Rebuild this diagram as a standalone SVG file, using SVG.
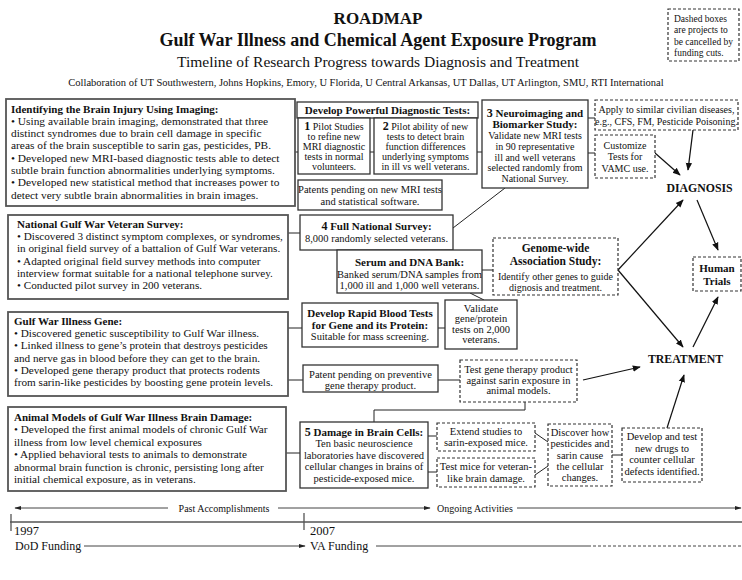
<svg xmlns="http://www.w3.org/2000/svg" width="742" height="580" viewBox="0 0 742 580">
<defs>
<marker id="ah" viewBox="0 0 10 10" refX="9" refY="5" markerWidth="8" markerHeight="8" orient="auto" markerUnits="userSpaceOnUse"><path d="M0,1 L10,5 L0,9 z" fill="#111"/></marker>
<marker id="sh" viewBox="0 0 10 10" refX="9" refY="5" markerWidth="7" markerHeight="7" orient="auto" markerUnits="userSpaceOnUse"><path d="M0,2 L10,5 L0,8 z" fill="#222"/></marker>
</defs>
<style>
text{font-family:"Liberation Serif","Times New Roman",serif;fill:#111;}
.b{font-weight:bold;}
.m{text-anchor:middle;}
.lbox{fill:#fff;stroke:#555;stroke-width:1.8;}
.box{fill:#fff;stroke:#333;stroke-width:1.3;}
.dbox{fill:#fff;stroke:#333;stroke-width:1.2;stroke-dasharray:3 2;}
.c{stroke:#222;stroke-width:1;fill:none;}
.a{stroke:#111;stroke-width:1.2;fill:none;marker-end:url(#ah);}
.tl{stroke:#444;stroke-width:1;fill:none;}
.s10{font-size:10px;}
.s105{font-size:10.5px;}
.s11{font-size:11px;}
.s112{font-size:11.2px;}
.s114{font-size:11.4px;}
</style>
<rect width="742" height="580" fill="#fff"/>

<g id="header">
<text x="378" y="24" class="b m" font-size="17">ROADMAP</text>
<text x="378" y="46" class="b m" font-size="18">Gulf War Illness and Chemical Agent Exposure Program</text>
<text x="378" y="67" class="m" font-size="15.5">Timeline of Research Progress towards Diagnosis and Treatment</text>
<text x="366" y="86" class="m s105">Collaboration of UT Southwestern, Johns Hopkins, Emory, U Florida, U Central Arkansas, UT Dallas, UT Arlington, SMU, RTI International</text>
</g>

<g id="legend">
<rect x="668" y="9" width="71" height="52" class="dbox"/>
<text x="674" font-size="9.5"><tspan x="674" y="21.5">Dashed boxes</tspan><tspan x="674" y="33">are projects to</tspan><tspan x="674" y="44.5">be cancelled by</tspan><tspan x="674" y="56">funding cuts.</tspan></text>
</g>

<g id="connectors">
<line x1="293" y1="152" x2="482" y2="152" class="c"/>
<line x1="288" y1="233" x2="300" y2="233" class="c"/>
<line x1="288" y1="328" x2="302" y2="328" class="c"/>
<line x1="288" y1="380" x2="303" y2="380" class="c"/>
<line x1="286" y1="453" x2="300" y2="453" class="c"/>
<line x1="505" y1="188" x2="453" y2="228" class="c"/>
<line x1="482" y1="270" x2="493" y2="270" class="c"/>
<line x1="470" y1="293" x2="484" y2="300" class="c"/>
<line x1="438" y1="328" x2="445" y2="328" class="c"/>
<line x1="438" y1="380" x2="460" y2="380" class="c"/>
<polyline points="525,402 525,410 374,410 374,422" class="c"/>
<line x1="428" y1="436" x2="437" y2="436" class="c"/>
<line x1="428" y1="472" x2="437" y2="472" class="c"/>
<line x1="535" y1="433" x2="548" y2="442" class="c"/>
<line x1="535" y1="475" x2="548" y2="466" class="c"/>
<line x1="612" y1="455" x2="622" y2="455" class="c"/>
<line x1="588" y1="118" x2="595" y2="118" class="c"/>
<line x1="588" y1="153" x2="595" y2="153" class="c"/>
<line x1="655" y1="153" x2="680" y2="175" class="a"/>
<line x1="693" y1="130" x2="688" y2="170" class="a"/>
<line x1="618" y1="270" x2="683" y2="200" class="a"/>
<line x1="618" y1="270" x2="683" y2="347" class="a"/>
<line x1="697" y1="200" x2="718" y2="250" class="a"/>
<line x1="693" y1="347" x2="718" y2="297" class="a"/>
<line x1="583" y1="380" x2="640" y2="367" class="a"/>
<line x1="667" y1="428" x2="684" y2="375" class="a"/>
</g>

<g id="imaging">
<rect x="6" y="99" width="289" height="107" class="lbox"/>
<text class="b s11" x="11" y="112.5">Identifying the Brain Injury Using Imaging:</text>
<text class="s114"><tspan x="11" y="124.8">• Using available brain imaging, demonstrated that three</tspan><tspan x="11" y="137.1">distinct syndromes due to brain cell damage in specific</tspan><tspan x="11" y="149.4">areas of the brain susceptible to sarin gas, pesticides, PB.</tspan><tspan x="11" y="161.7">• Developed new MRI-based diagnostic tests able to detect</tspan><tspan x="11" y="174">subtle brain function abnormalities underlying symptoms.</tspan><tspan x="11" y="186.3">• Developed new statistical method that increases power to</tspan><tspan x="11" y="198.6">detect very subtle brain abnormalities in brain images.</tspan></text>
</g>

<g id="survey">
<rect x="8" y="215" width="280" height="84" class="lbox"/>
<text class="b s11" x="17" y="228">National Gulf War Veteran Survey:</text>
<text class="s112"><tspan x="17" y="240.2">• Discovered 3 distinct symptom complexes, or syndromes,</tspan><tspan x="17" y="252.4">in original field survey of a battalion of Gulf War veterans.</tspan><tspan x="17" y="264.6">• Adapted original field survey methods into computer</tspan><tspan x="17" y="276.8">interview format suitable for a national telephone survey.</tspan><tspan x="17" y="289">• Conducted pilot survey in 200 veterans.</tspan></text>
</g>

<g id="gene">
<rect x="8" y="312" width="280" height="84" class="lbox"/>
<text class="b s11" x="14" y="325">Gulf War Illness Gene:</text>
<text class="s112"><tspan x="14" y="337.2">• Discovered genetic susceptibility to Gulf War illness.</tspan><tspan x="14" y="349.4">• Linked illness to gene’s protein that destroys pesticides</tspan><tspan x="14" y="361.6">and nerve gas in blood before they can get to the brain.</tspan><tspan x="14" y="373.8">• Developed gene therapy product that protects rodents</tspan><tspan x="14" y="386">from sarin-like pesticides by boosting gene protein levels.</tspan></text>
</g>

<g id="animal">
<rect x="8" y="407" width="278" height="84" class="lbox"/>
<text class="b s11" x="14" y="421">Animal Models of Gulf War Illness Brain Damage:</text>
<text class="s112"><tspan x="14" y="433.4">• Developed the first animal models of chronic Gulf War</tspan><tspan x="14" y="445.8">illness from low level chemical exposures</tspan><tspan x="14" y="458.2">• Applied behavioral tests to animals to demonstrate</tspan><tspan x="14" y="470.6">abnormal brain function is chronic, persisting long after</tspan><tspan x="14" y="483">initial chemical exposure, as in veterans.</tspan></text>
</g>

<g id="diagtests">
<rect x="297" y="102" width="181" height="16" class="box"/>
<text class="b s11 m" x="387.5" y="114">Develop Powerful Diagnostic Tests:</text>
</g>
<g id="pilot1">
<rect x="298" y="118" width="72" height="56" class="box"/>
<text class="s10 m"><tspan x="334" y="130"><tspan class="b" font-size="12">1</tspan> Pilot Studies</tspan><tspan x="334" y="140">to refine new</tspan><tspan x="334" y="150">MRI diagnostic</tspan><tspan x="334" y="160">tests in normal</tspan><tspan x="334" y="170">volunteers.</tspan></text>
</g>
<g id="pilot2">
<rect x="374" y="118" width="103" height="56" class="box"/>
<text class="s10 m"><tspan x="425.5" y="130"><tspan class="b" font-size="12">2</tspan> Pilot ability of new</tspan><tspan x="425.5" y="140">tests to detect brain</tspan><tspan x="425.5" y="150">function differences</tspan><tspan x="425.5" y="160">underlying symptoms</tspan><tspan x="425.5" y="170">in ill vs well veterans.</tspan></text>
</g>
<g id="patents">
<rect x="298" y="180" width="144" height="30" class="box"/>
<text class="s105 m"><tspan x="370" y="193">Patents pending on new MRI tests</tspan><tspan x="370" y="204.5">and statistical software.</tspan></text>
</g>

<g id="fullsurvey">
<rect x="300" y="215" width="153" height="35" class="box"/>
<text class="b s11 m" x="376.5" y="230"><tspan font-size="12">4</tspan> Full National Survey:</text>
<text class="s105 m" x="376.5" y="242">8,000 randomly selected veterans.</text>
</g>
<g id="serum">
<rect x="337" y="250" width="145" height="43" class="box"/>
<text class="b s11 m" x="409.5" y="265.5">Serum and DNA Bank:</text>
<text class="s105 m"><tspan x="409.5" y="277.5">Banked serum/DNA samples from</tspan><tspan x="409.5" y="288.5">1,000 ill and 1,000 well veterans.</tspan></text>
</g>
<g id="rapid">
<rect x="302" y="303" width="136" height="44" class="box"/>
<text class="b s11 m"><tspan x="370" y="317">Develop Rapid Blood Tests</tspan><tspan x="370" y="328.5">for Gene and its Protein:</tspan></text>
<text class="s105 m" x="370" y="340">Suitable for mass screening.</text>
</g>
<g id="validate">
<rect x="445" y="300" width="72" height="49" class="box"/>
<text class="s105 m"><tspan x="481" y="311.5">Validate</tspan><tspan x="481" y="322">gene/protein</tspan><tspan x="481" y="332.5">tests on 2,000</tspan><tspan x="481" y="343">veterans.</tspan></text>
</g>
<g id="patentgene">
<rect x="303" y="365" width="135" height="27" class="box"/>
<text class="s105 m"><tspan x="370.5" y="377.5">Patent pending on preventive</tspan><tspan x="370.5" y="388.5">gene therapy product.</tspan></text>
</g>
<g id="testgene">
<rect x="460" y="360" width="117" height="42" class="dbox"/>
<text class="s105 m"><tspan x="518.5" y="373">Test gene therapy product</tspan><tspan x="518.5" y="383.5">against sarin exposure in</tspan><tspan x="518.5" y="394">animal models.</tspan></text>
</g>
<g id="braincells">
<rect x="300" y="422" width="128" height="66" class="box"/>
<text class="b s11 m" x="364" y="435.5"><tspan font-size="12">5</tspan> Damage in Brain Cells:</text>
<text class="s105 m"><tspan x="364" y="447">Ten basic neuroscience</tspan><tspan x="364" y="458.5">laboratories have discovered</tspan><tspan x="364" y="470">cellular changes in brains of</tspan><tspan x="364" y="481.5">pesticide-exposed mice.</tspan></text>
</g>
<g id="extend">
<rect x="437" y="423" width="98" height="28" class="dbox"/>
<text class="s105 m"><tspan x="486" y="434.5">Extend studies to</tspan><tspan x="486" y="446">sarin-exposed mice.</tspan></text>
</g>
<g id="testmice">
<rect x="437" y="458" width="98" height="29" class="dbox"/>
<text class="s105 m"><tspan x="486" y="470">Test mice for veteran-</tspan><tspan x="486" y="481.5">like brain damage.</tspan></text>
</g>
<g id="discover">
<rect x="548" y="424" width="64" height="62" class="dbox"/>
<text class="s105 m"><tspan x="580" y="436">Discover how</tspan><tspan x="580" y="447">pesticides and</tspan><tspan x="580" y="458.5">sarin cause</tspan><tspan x="580" y="470">the cellular</tspan><tspan x="580" y="481">changes.</tspan></text>
</g>
<g id="drugs">
<rect x="622" y="428" width="80" height="54" class="dbox"/>
<text class="s105 m"><tspan x="662" y="440">Develop and test</tspan><tspan x="662" y="451.5">new drugs to</tspan><tspan x="662" y="463">counter cellular</tspan><tspan x="662" y="474.5">defects identified.</tspan></text>
</g>

<g id="neuro">
<rect x="482" y="100" width="106" height="88" class="box"/>
<text class="b s11 m"><tspan x="535" y="116.5"><tspan font-size="12">3</tspan> Neuroimaging and</tspan><tspan x="535" y="128">Biomarker Study:</tspan></text>
<text class="s10 m"><tspan x="535" y="139">Validate new MRI tests</tspan><tspan x="535" y="149.5">in 90 representative</tspan><tspan x="535" y="160.5">ill and well veterans</tspan><tspan x="535" y="171">selected randomly from</tspan><tspan x="535" y="181.5">National Survey.</tspan></text>
</g>
<g id="apply">
<rect x="595" y="100" width="143" height="30" class="dbox"/>
<text class="s10 m"><tspan x="666.5" y="113">Apply to similar civilian diseases,</tspan><tspan x="666.5" y="124.5">e.g., CFS, FM, Pesticide Poisoning.</tspan></text>
</g>
<g id="customize">
<rect x="595" y="135" width="60" height="43" class="dbox"/>
<text class="s10 m"><tspan x="625" y="148.5">Customize</tspan><tspan x="625" y="160">Tests for</tspan><tspan x="625" y="171.5">VAMC use.</tspan></text>
</g>
<g id="diagnosis">
<text class="b m" font-size="11.8" x="699.5" y="192">DIAGNOSIS</text>
</g>
<g id="genome">
<rect x="493" y="238" width="125" height="57" class="dbox"/>
<text class="b m" font-size="11.5"><tspan x="555.5" y="252">Genome-wide</tspan><tspan x="555.5" y="264.5">Association Study:</tspan></text>
<text class="s10 m"><tspan x="555.5" y="279.5">Identify other genes to guide</tspan><tspan x="555.5" y="290.5">dignosis and treatment.</tspan></text>
</g>
<g id="trials">
<rect x="693" y="257" width="48" height="34" class="dbox"/>
<text class="b s11 m"><tspan x="717" y="271.5">Human</tspan><tspan x="717" y="285">Trials</tspan></text>
</g>
<g id="treatment">
<text class="b m" font-size="11.8" x="685.5" y="363">TREATMENT</text>
</g>

<g id="timeline">
<line x1="10" y1="522" x2="742" y2="522" stroke="#555" stroke-width="1.5"/>
<line x1="11" y1="514" x2="11" y2="531" stroke="#555" stroke-width="1.3"/>
<line x1="304" y1="513" x2="304" y2="530" stroke="#555" stroke-width="1.3"/>
<line x1="168" y1="508" x2="15" y2="508" class="tl" marker-end="url(#sh)"/>
<text class="s10 m" x="224" y="511.5">Past Accomplishments</text>
<line x1="278" y1="508" x2="430" y2="508" class="tl" marker-end="url(#sh)"/>
<text class="s10" x="437" y="511.5">Ongoing Activities</text>
<line x1="517" y1="508" x2="741" y2="508" class="tl" marker-end="url(#sh)"/>
<text x="14" y="535" font-size="12.5">1997</text>
<text x="15" y="550" font-size="12">DoD Funding</text>
<line x1="84" y1="546" x2="305" y2="546" class="tl" marker-end="url(#sh)"/>
<text x="310" y="535" font-size="12.5">2007</text>
<text x="310" y="550" font-size="12">VA Funding</text>
<line x1="376" y1="546" x2="588" y2="546" class="tl"/>
<line x1="588" y1="546" x2="742" y2="546" class="tl" stroke-dasharray="3 2"/>
</g>
</svg>
